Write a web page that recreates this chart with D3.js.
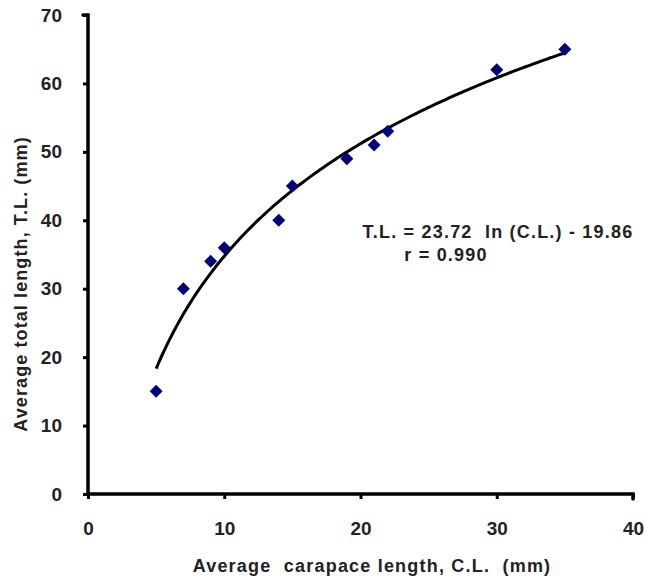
<!DOCTYPE html>
<html>
<head>
<meta charset="utf-8">
<script src="https://cdn.jsdelivr.net/npm/d3@7"></script>
<style>
  body { margin: 0; background: #fff; }
  svg text { font-family: "Liberation Sans", Arial, sans-serif; font-weight: bold; fill: #222; }
</style>
</head>
<body>
<svg id="chart" width="645" height="580"></svg>
<script>
// carapace length (mm) and total length (mm)
var carapace = [5, 7, 9, 10, 14, 15, 19, 21, 22, 30, 35];
var total = [15, 30, 34, 36, 40, 45, 49, 51, 53, 62, 65];
var xTicks = [0, 10, 20, 30, 40];
var yTicks = [0, 10, 20, 30, 40, 50, 60, 70];
// log trendline from the equation on the chart
var fitA = 23.72, fitB = -19.86;
var fitRange = [5, 35];

var svg = d3.select("#chart");

var x = d3.scaleLinear().domain([0, 40]).range([88, 633]);
var y = d3.scaleLinear().domain([0, 70]).range([494, 15]);

// axes
var xAxis = d3.axisBottom(x).tickValues(xTicks).tickSize(5).tickPadding(23);
var yAxis = d3.axisLeft(y).tickValues(yTicks).tickSize(5).tickPadding(21);

var gx = svg.append("g").attr("transform", "translate(0,494)").call(xAxis);
var gy = svg.append("g").attr("transform", "translate(88,0)").call(yAxis);

[gx, gy].forEach(function(g) {
    g.select(".domain").attr("stroke", "#000").attr("stroke-width", 3.5).attr("stroke-linecap", "round");
    g.selectAll(".tick line").attr("stroke", "#000").attr("stroke-width", 3);
    g.selectAll(".tick text").style("font-size", "19px").attr("fill", "#222");
});
gx.select(".domain").attr("d", "M" + x(0) + ",0H" + x(40) + "V5");
gy.select(".domain").attr("d", "M-5," + y(70) + "H0V" + y(0));

// trendline
var fitPts = d3.range(fitRange[0], fitRange[1] + 0.01, 0.25).map(function(c) {
    return [c, fitA * Math.log(c) + fitB];
});
svg.append("path")
    .datum(fitPts)
    .attr("fill", "none")
    .attr("stroke", "#000")
    .attr("stroke-width", 3)
    .attr("d", d3.line().x(d => x(d[0])).y(d => y(d[1])).curve(d3.curveBasis));

// diamonds
svg.append("g").selectAll("path")
    .data(carapace.map((c, i) => [c, total[i]]))
    .enter().append("path")
    .attr("transform", d => "translate(" + x(d[0]) + "," + y(d[1]) + ")")
    .attr("d", "M0,-6.5L6.5,0L0,6.5L-6.5,0Z")
    .attr("fill", "#000080");

// axis titles
svg.append("text")
    .attr("x", 372).attr("y", 572)
    .attr("text-anchor", "middle")
    .style("font-size", "18px")
    .style("letter-spacing", "1.2px")
    .style("white-space", "pre")
    .text("Average  carapace length, C.L.  (mm)");

svg.append("text")
    .attr("transform", "translate(27,284) rotate(-90)")
    .attr("text-anchor", "middle")
    .style("font-size", "18px")
    .style("letter-spacing", "1.1px")
    .text("Average total length, T.L. (mm)");

// equation
svg.append("text")
    .attr("x", 498).attr("y", 238)
    .attr("text-anchor", "middle")
    .style("font-size", "18px")
    .style("letter-spacing", "1.2px")
    .style("white-space", "pre")
    .text("T.L. = 23.72  ln (C.L.) - 19.86");
svg.append("text")
    .attr("x", 446).attr("y", 261)
    .attr("text-anchor", "middle")
    .style("font-size", "18px")
    .style("letter-spacing", "1.2px")
    .text("r = 0.990");
</script>
</body>
</html>
